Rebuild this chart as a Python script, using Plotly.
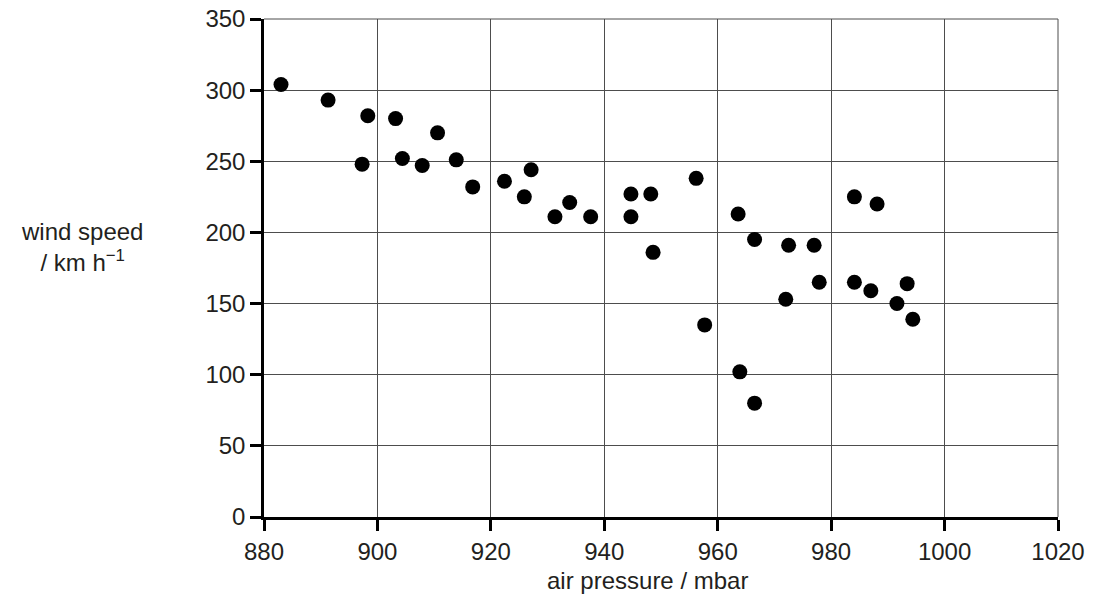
import plotly.graph_objects as go

pressure = [883.0, 891.3, 898.3, 903.2, 910.6, 897.3, 904.4, 907.9, 913.9, 916.8,
            922.4, 925.9, 927.1, 931.3, 933.9, 937.6, 944.7, 948.2, 944.7, 948.6,
            956.2, 963.6, 984.1, 988.1, 966.5, 972.5, 977.0, 977.9, 984.1, 987.0,
            993.4, 972.0, 991.6, 994.4, 957.7, 963.9, 966.5]
wind_speed = [304, 293, 282, 280, 270, 248, 252, 247, 251, 232,
              236, 225, 244, 211, 221, 211, 227, 227, 211, 186,
              238, 213, 225, 220, 195, 191, 191, 165, 165, 159,
              164, 153, 150, 139, 135, 102, 80]

x_ticks = [880, 900, 920, 940, 960, 980, 1000, 1020]
y_ticks = [0, 50, 100, 150, 200, 250, 300, 350]

FONT = "Liberation Sans, Arial, sans-serif"
TXT = "#231f20"

fig = go.Figure()
fig.add_trace(go.Scatter(
    x=pressure, y=wind_speed, mode="markers",
    marker=dict(color="black", size=15, line=dict(width=0)),
    showlegend=False, hoverinfo="x+y",
))

axis_common = dict(
    showgrid=True, gridcolor="#4d4d4d", gridwidth=1,
    showline=True, linecolor="black", linewidth=2.5,
    ticks="outside", ticklen=11, tickwidth=2.5, tickcolor="black",
    zeroline=False, tickfont=dict(family=FONT, size=24, color=TXT),
    ticklabeloverflow="allow", automargin=False, fixedrange=True,
)

fig.update_xaxes(range=[880, 1020], tickvals=x_ticks,
                 ticktext=[str(v) for v in x_ticks], **axis_common)
fig.update_yaxes(range=[0, 350], tickvals=y_ticks,
                 ticktext=[str(v) for v in y_ticks], **axis_common)

# thin border lines on top and right
fig.add_shape(type="line", xref="paper", yref="paper", x0=0, x1=1, y0=1, y1=1,
              line=dict(color="#4d4d4d", width=1))
fig.add_shape(type="line", xref="paper", yref="paper", x0=1, x1=1, y0=0, y1=1,
              line=dict(color="#4d4d4d", width=1))

fig.add_annotation(text="air pressure / mbar", xref="paper", yref="paper",
                   x=0.4836, y=-0.128, xanchor="center", yanchor="middle",
                   showarrow=False, font=dict(family=FONT, size=24, color=TXT))
fig.add_annotation(text="wind speed<br>/ km h<sup>−1</sup>", xref="paper", yref="paper",
                   x=-0.229, y=0.542, xanchor="center", yanchor="middle", align="center",
                   showarrow=False, font=dict(family=FONT, size=24, color=TXT))

fig.update_layout(
    width=1097, height=601,
    margin=dict(l=264, r=39, t=19, b=84, autoexpand=False),
    paper_bgcolor="white", plot_bgcolor="white",
)

fig.write_html("out.html",
               config={"displayModeBar": False},
               post_script="document.body.style.margin='0';document.body.style.overflow='hidden';")
